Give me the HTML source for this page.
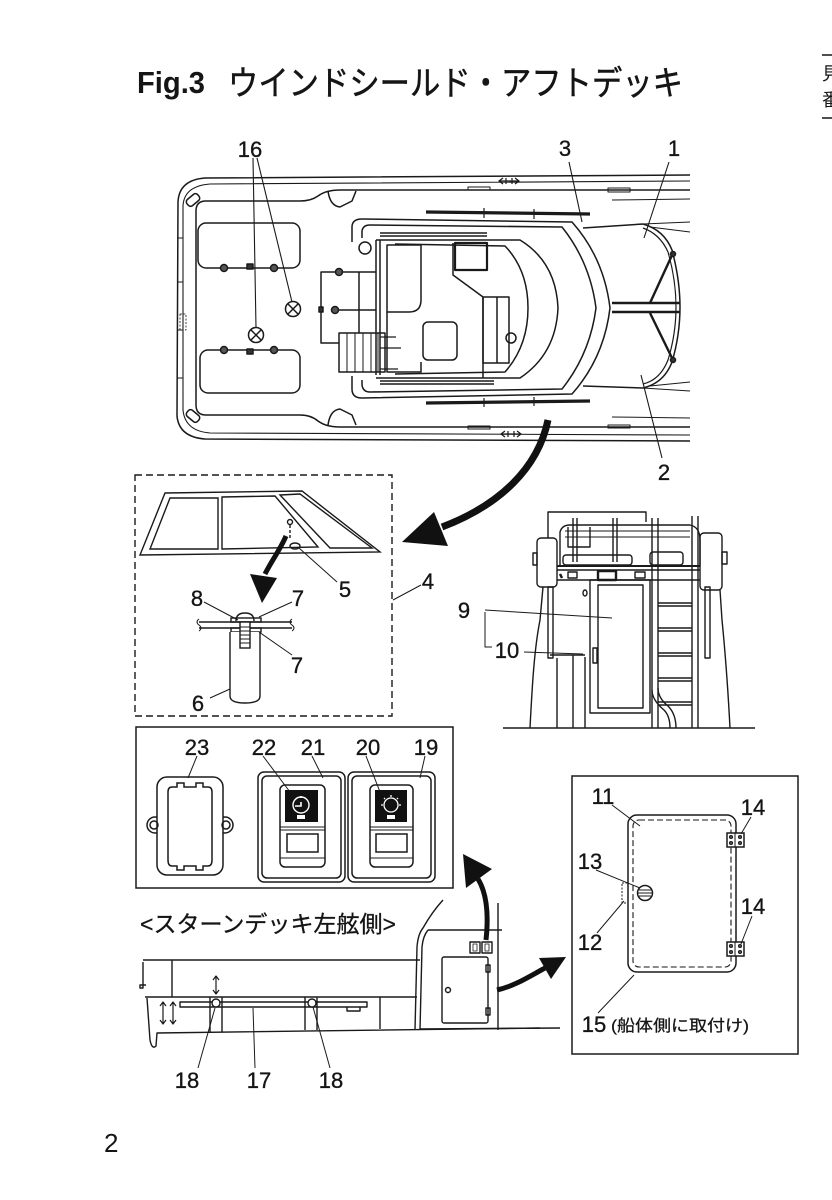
<!DOCTYPE html>
<html><head><meta charset="utf-8">
<style>
html,body{margin:0;padding:0;background:#fff;}
svg{display:block;}
.l{font-family:"Liberation Sans",Arial,sans-serif;font-size:22px;fill:#151515;stroke:#151515;stroke-width:0.35;}
</style></head><body>
<svg width="832" height="1200" viewBox="0 0 832 1200" xmlns="http://www.w3.org/2000/svg">
<rect width="832" height="1200" fill="#fff"/>

<!-- Title -->
<text x="137" y="93" font-family="Liberation Sans, Arial, sans-serif" font-weight="bold" font-size="31" textLength="68" lengthAdjust="spacingAndGlyphs" fill="#151515">Fig.3</text>
<text x="228" y="95" font-family="Liberation Sans, Noto Sans CJK JP, sans-serif" font-size="34" textLength="455" lengthAdjust="spacingAndGlyphs" fill="#151515" stroke="#151515" stroke-width="0.5">ウインドシールド・アフトデッキ</text>
<g stroke="#151515" stroke-width="1.5">
<line x1="822" y1="55" x2="832" y2="55"/><line x1="822" y1="118" x2="832" y2="118"/>
</g>
<text x="822" y="80" font-family="Noto Sans CJK JP, sans-serif" font-size="18" fill="#151515">見</text>
<text x="822" y="106" font-family="Noto Sans CJK JP, sans-serif" font-size="18" fill="#151515">番</text>

<!-- ================= BOAT TOP VIEW ================= -->
<g fill="none" stroke="#1a1a1a" stroke-width="1.5" stroke-linejoin="round">
<!-- hull -->
<path d="M690,175 L205,178 Q179,180 178,202 L177,416 Q179,437 205,439 L690,441"/>
<path d="M690,181 L210,184 Q184,186 183,206 L183,410 Q185,431 210,433 L690,435" stroke-width="1.1"/>
<path d="M690,190 L340,190 Q326,190 318,196 Q311,201 300,201 L206,201 Q196,201 196,211 L196,405 Q196,415 206,415 L300,415 Q311,415 318,421 Q326,427 340,427 L690,427"/>
<!-- transom steps -->
<path d="M177,238 L183,238 M177,282 L183,282 M177,330 L183,330 M177,378 L183,378" stroke-width="1"/>
<rect x="180" y="314" width="6" height="16" stroke-width="0.8" stroke-dasharray="2 1.5"/>
<!-- corner cleats -->
<rect x="186" y="196" width="14" height="8" rx="3" transform="rotate(-40 193 200)"/>
<rect x="186" y="412" width="14" height="8" rx="3" transform="rotate(40 193 416)"/>
<!-- step trapezoids -->
<path d="M328,191 Q330,206 340,207 L352,201 L356,191"/>
<path d="M328,425 Q330,410 340,409 L352,415 L356,425"/>
<!-- small deck fittings -->
<path d="M468,187 L490,187 L490,190 L468,190 Z M608,188 L630,188 L630,192 L608,192 Z" stroke-width="1"/>
<path d="M468,426 L490,426 L490,429 L468,429 Z M608,425 L630,425 L630,428 L608,428 Z" stroke-width="1"/>
<path d="M500,181 L518,181 M503,178 L499,181 L503,184 M515,178 L519,181 L515,184 M506,178 L506,184 M512,178 L512,184" stroke-width="1.2"/>
<path d="M502,434 L520,434 M505,431 L501,434 L505,437 M517,431 L521,434 L517,437 M508,431 L508,437 M514,431 L514,437" stroke-width="1.2"/>
<!-- hatches -->
<rect x="198" y="223" width="102" height="45" rx="8"/>
<rect x="200" y="350" width="100" height="43" rx="8"/>
<!-- deck plates -->
<circle cx="293" cy="309" r="7.5"/><path d="M288,304 L298,314 M298,304 L288,314"/>
<circle cx="256" cy="335" r="7.5"/><path d="M251,330 L261,340 M261,330 L251,340"/>

<!-- cabin -->
<path d="M352,242 L352,227 Q352,219 362,219 L572,222 Q604,258 610,308 Q604,358 572,394 L362,398 Q352,398 352,389 L352,376"/>
<path d="M362,238 L362,231 Q363,225 370,225 L562,227 Q590,262 596,308 Q590,354 562,389 L370,392 Q363,392 362,385 L362,380"/>
<circle cx="365" cy="248" r="6"/>
<path d="M376,240 L520,240 Q556,262 558,308 Q556,354 520,378 L376,378"/>
<path d="M395,244 L505,246 Q528,270 528,308 Q528,346 505,372 L395,374"/>
<path d="M380,233 L487,233 M380,236 L487,236" stroke-width="1.6"/>
<path d="M380,381 L494,381 M380,384 L494,384" stroke-width="1.6"/>
<path d="M426,212 L590,214" stroke-width="3.2"/>
<path d="M426,403 L590,401" stroke-width="3.2"/>
<path d="M484,208 L484,218 M534,209 L534,219 M484,398 L484,407 M534,397 L534,406" stroke-width="1.2"/>
<!-- helm / interior -->
<path d="M376,240 L376,375 M380,240 L380,375"/>
<path d="M387,245 L421,245 L421,300 Q421,312 409,312 L387,312 Z"/>
<path d="M387,312 L387,372 L421,372 L421,362"/>
<rect x="423" y="322" width="34" height="38" rx="5"/>
<path d="M453,243 L453,275 L483,297 L483,378"/>
<rect x="455" y="243" width="32" height="27" stroke-width="2.2"/>
<rect x="483" y="297" width="26" height="66"/>
<path d="M497,297 L497,363"/>
<circle cx="511" cy="338" r="5"/>
<!-- rails and stairs -->
<path d="M376,272 L321,272 L321,343 L339,343 M376,310 L339,310 M359,272 L359,333"/>
<circle cx="339" cy="272" r="3.5" fill="#555"/><circle cx="335" cy="310" r="3.5" fill="#555"/>
<rect x="319" y="307" width="4" height="5" fill="#333"/>
<rect x="339" y="333" width="46" height="39"/>
<path d="M347,333 L347,372 M355,333 L355,372 M363,333 L363,372 M371,333 L371,372 M378,333 L378,372" stroke-width="1"/>
<path d="M380,337 L396,337 M380,348 L401,348 M380,369 L398,369" stroke-width="1.2"/>
<!-- hatch hinges -->
<circle cx="224" cy="268" r="3.5" fill="#555"/><circle cx="274" cy="268" r="3.5" fill="#555"/>
<circle cx="224" cy="350" r="3.5" fill="#555"/><circle cx="274" cy="350" r="3.5" fill="#555"/>
<rect x="247" y="264" width="6" height="5" fill="#333"/><rect x="247" y="349" width="6" height="5" fill="#333"/>
<!-- foredeck -->
<path d="M583,228 L643,224 Q664,230 672,250 Q680,280 680,307 Q680,335 672,362 Q664,383 643,388 L583,386"/>
<path d="M643,228 Q660,234 668,252 Q676,280 676,307 Q676,334 668,360 Q660,380 643,384" stroke-width="1.2"/>
<path d="M643,224 L690,222 M650,227 L690,232 M643,388 L690,391 M650,386 L690,382 M612,200 L690,199 M612,417 L690,418" stroke-width="1"/>
<path d="M673,253 L650,303 M650,313 L673,360" stroke-width="2.4"/>
<circle cx="673" cy="254" r="2.5" fill="#333"/><circle cx="673" cy="360" r="2.5" fill="#333"/>
<path d="M612,303 L680,303 M612,312 L680,312" stroke-width="2.4"/>
<!-- leaders -->
<path d="M253,158 L256,328 M257,158 L292,302 M569,162 L582,222 M669,162 L644,238 M662,458 L641,375" stroke-width="1.1"/>
</g>
<text class="l" x="250" y="157" text-anchor="middle">16</text>
<text class="l" x="565" y="156" text-anchor="middle">3</text>
<text class="l" x="674" y="156" text-anchor="middle">1</text>
<text class="l" x="664" y="480" text-anchor="middle">2</text>

<!-- big arrow -->
<path d="M548,420 C538,468 500,505 442,527" fill="none" stroke="#111" stroke-width="7"/>
<polygon points="402,542 434,512 448,546" fill="#111"/>

<!-- ================= WINDSHIELD BOX ================= -->
<g fill="none" stroke="#1a1a1a" stroke-width="1.4">
<rect x="135" y="475" width="257" height="241" stroke-dasharray="7 4"/>
<path d="M165,493 L302,491 L380,552 L140,555 Z"/>
<path d="M170,498 L218,498 L218,549 L150,549 Z"/>
<path d="M222,497 L275,496 L318,547 L222,549 Z"/>
<path d="M280,495 L300,494 L372,548 L330,548 Z"/>
<path d="M290,525 L290,540" stroke-dasharray="3 2"/>
<circle cx="290" cy="522" r="2.5"/>
<ellipse cx="295" cy="546" rx="5" ry="3"/>
<path d="M299,548 L337,582" stroke-width="1"/>
<!-- bolt detail -->
<path d="M199,622 L292,622 M199,628 L292,628"/>
<path d="M199,619 Q195,622 199,625 Q203,628 199,631" stroke-width="1"/>
<path d="M292,619 Q288,622 292,625 Q296,628 292,631" stroke-width="1"/>
<path d="M236,621 Q236,613 245,613 Q254,613 254,621"/>
<rect x="231" y="618" width="30" height="4"/>
<rect x="231" y="628" width="30" height="4"/>
<path d="M230,632 L230,696 Q230,703 245,703 Q260,703 260,696 L260,632" fill="#fff"/>
<rect x="240" y="622" width="10" height="26" fill="#fff"/>
<path d="M240,627 L250,627 M240,631 L250,631 M240,635 L250,635 M240,639 L250,639 M240,643 L250,643" stroke-width="0.9"/>
<path d="M204,602 L238,620 M292,602 L259,617 M292,655 L259,632 M210,698 L230,689 M421,585 L393,600" stroke-width="1"/>
</g>
<path d="M286,536 C280,550 272,560 265,574" fill="none" stroke="#111" stroke-width="5"/>
<polygon points="250,574 277,578 262,603" fill="#111"/>
<text class="l" x="345" y="597" text-anchor="middle">5</text>
<text class="l" x="428" y="589" text-anchor="middle">4</text>
<text class="l" x="197" y="606" text-anchor="middle">8</text>
<text class="l" x="298" y="606" text-anchor="middle">7</text>
<text class="l" x="297" y="673" text-anchor="middle">7</text>
<text class="l" x="198" y="711" text-anchor="middle">6</text>

<!-- ================= LADDER VIEW ================= -->
<g fill="none" stroke="#1a1a1a" stroke-width="1.4" stroke-linejoin="round">
<path d="M503,728 L755,728"/>
<path d="M530,728 C532,690 534,650 540,620 L543,587"/>
<path d="M730,728 C728,690 725,650 722,620 L720,590"/>
<path d="M548,538 L548,512 L646,512 L646,522"/>
<path d="M560,567 L560,532 Q562,525 570,525 L690,525 Q700,527 700,540 L700,567"/>
<path d="M565,531 L690,531 M565,537 L690,537" stroke-width="1"/>
<path d="M568,527 L568,547 L590,547 L590,527"/>
<rect x="563" y="555" width="69" height="10" rx="3"/>
<rect x="650" y="552" width="33" height="13" rx="3"/>
<path d="M573,518 L573,562 M577,518 L577,562 M613,518 L613,562 M617,518 L617,562"/>
<path d="M557,566 L700,566" stroke-width="2"/>
<path d="M557,570 L700,570 M557,580 L700,580"/>
<rect x="568" y="572" width="9" height="6"/>
<rect x="598" y="571" width="18" height="9" stroke-width="2.4"/>
<rect x="635" y="572" width="10" height="6"/>
<rect x="537" y="538" width="20" height="49" rx="4"/>
<rect x="533" y="553" width="4" height="12"/>
<rect x="700" y="533" width="22" height="57" rx="4"/>
<rect x="722" y="552" width="5" height="12"/>
<rect x="548" y="587" width="5" height="71"/>
<rect x="705" y="587" width="5" height="71"/>
<path d="M560,574 L562,578" stroke-width="2.5"/>
<rect x="590" y="580" width="60" height="133"/>
<rect x="598" y="585" width="45" height="123"/>
<path d="M652,518 L652,728 M658,518 L658,728 M692,516 L692,728 M698,516 L698,728"/>
<path d="M658,603 L692,603 M658,606 L692,606 M658,628 L692,628 M658,631 L692,631 M658,653 L692,653 M658,656 L692,656 M658,678 L692,678 M658,681 L692,681 M658,702 L692,702 M658,705 L692,705"/>
<path d="M652,690 Q652,700 664,710 Q670,716 670,728 M658,688 Q658,698 668,706 Q676,714 676,728"/>
<path d="M557,658 L557,728 M573,655 L573,728 M585,657 L585,728 M550,655 L585,655"/>
<ellipse cx="585" cy="593" rx="2" ry="3"/>
<rect x="593" y="648" width="4" height="15"/>
<path d="M485,610 L612,618 M485,612 L485,647 L492,647 M524,652 L583,654" stroke-width="1"/>
</g>
<text class="l" x="464" y="618" text-anchor="middle">9</text>
<text class="l" x="507" y="658" text-anchor="middle">10</text>

<!-- ================= SWITCH PANEL ================= -->
<g fill="none" stroke="#1a1a1a" stroke-width="1.5">
<rect x="136" y="727" width="317" height="161"/>
<circle cx="155" cy="825" r="8" fill="#fff"/>
<circle cx="225" cy="825" r="8" fill="#fff"/>
<rect x="157" y="777" width="66" height="98" rx="10" fill="#fff"/>
<circle cx="154" cy="825" r="4"/>
<circle cx="226" cy="825" r="4"/>
<path d="M172,787 L177,787 L177,783 L184,783 L184,787 L196,787 L196,783 L203,783 L203,787 L208,787 Q212,787 212,792 L212,860 Q212,866 208,866 L203,866 L203,870 L196,870 L196,866 L184,866 L184,870 L177,870 L177,866 L172,866 Q168,866 168,860 L168,792 Q168,787 172,787 Z"/>
<rect x="258" y="772" width="87" height="110" rx="6"/>
<rect x="262" y="776" width="79" height="102" rx="5"/>
<rect x="280" y="785" width="45" height="82" rx="5"/>
<path d="M280,827 L325,827 M280,830 L325,830 M280,858 L325,858" stroke-width="1"/>
<rect x="287" y="834" width="31" height="18"/>
<rect x="348" y="772" width="87" height="110" rx="6"/>
<rect x="352" y="776" width="79" height="102" rx="5"/>
<rect x="370" y="785" width="43" height="82" rx="5"/>
<path d="M370,827 L413,827 M370,830 L413,830 M370,858 L413,858" stroke-width="1"/>
<rect x="376" y="834" width="31" height="18"/>
<path d="M197,756 L188,778 M263,756 L290,792 M312,756 L323,778 M366,756 L380,792 M425,756 L420,778" stroke-width="1"/>
</g>
<rect x="285" y="790" width="33" height="32" fill="#111"/>
<circle cx="301" cy="805" r="8" fill="none" stroke="#fff" stroke-width="1.4"/>
<path d="M295,806 L301,806 L301,802 M301,798 L301,796" fill="none" stroke="#fff" stroke-width="1.6"/>
<rect x="297" y="815" width="8" height="4" fill="#fff"/>
<rect x="375" y="790" width="32" height="32" fill="#111"/>
<circle cx="391" cy="805" r="7" fill="none" stroke="#fff" stroke-width="1.3"/>
<path d="M391,795 L391,797 M381,805 L383,805 M399,805 L401,805 M384,798 L385,799 M398,798 L397,799" stroke="#fff" stroke-width="1.3"/>
<rect x="387" y="815" width="8" height="4" fill="#fff"/>
<text class="l" x="197" y="755" text-anchor="middle">23</text>
<text class="l" x="264" y="755" text-anchor="middle">22</text>
<text class="l" x="313" y="755" text-anchor="middle">21</text>
<text class="l" x="368" y="755" text-anchor="middle">20</text>
<text class="l" x="426" y="755" text-anchor="middle">19</text>

<!-- ================= SIDE VIEW ================= -->
<text x="140" y="932" font-family="Liberation Sans, Noto Sans CJK JP, sans-serif" font-size="23" textLength="256" lengthAdjust="spacingAndGlyphs" fill="#151515" stroke="#151515" stroke-width="0.3">&lt;スターンデッキ左舷側&gt;</text>
<g fill="none" stroke="#1a1a1a" stroke-width="1.4" stroke-linejoin="round">
<path d="M143,960 L420,960"/>
<path d="M143,962 L143,988 L140,988 L140,985 L146,985"/>
<path d="M172,960 L172,997 M145,997 L417,997"/>
<path d="M147,998 L150,1040 Q152,1050 156,1046 L157,1033 L540,1028"/>
<rect x="180" y="1002" width="187" height="5"/>
<path d="M347,1007 L347,1011 L360,1011 L360,1007"/>
<path d="M210,997 L210,1032 M222,997 L222,1032 M305,997 L305,1030 M317,997 L317,1030 M380,997 L380,1029"/>
<circle cx="216" cy="1003" r="4" fill="#fff"/><circle cx="312" cy="1003" r="4" fill="#fff"/>
<path d="M216,977 L216,993 M213,980 L216,976 L219,980 M213,990 L216,994 L219,990" stroke-width="1.2"/>
<path d="M163,1003 L163,1023 M160,1006 L163,1002 L166,1006 M160,1020 L163,1024 L166,1020" stroke-width="1.2"/>
<path d="M173,1003 L173,1023 M170,1006 L173,1002 L176,1006 M170,1020 L173,1024 L176,1020" stroke-width="1.2"/>
<path d="M415,1030 L417,947 Q418,934 423,928 Q432,912 443,900"/>
<path d="M420,1030 L422,947 Q423,936 428,930"/>
<path d="M428,930 L502,930 M498,903 L498,1030 M420,1029 L560,1028"/>
<rect x="470" y="942" width="10" height="11"/><rect x="482" y="942" width="10" height="11"/>
<rect x="473" y="944" width="4" height="7" stroke-width="0.8"/><rect x="485" y="944" width="4" height="7" stroke-width="0.8"/>
<rect x="442" y="957" width="46" height="66" rx="2"/>
<circle cx="448" cy="990" r="2.5"/>
<rect x="486" y="965" width="4" height="7"/><rect x="486" y="1008" width="4" height="7"/>
<path d="M198,1068 L215,1008 M255,1068 L253,1008 M330,1068 L313,1007" stroke-width="1"/>
</g>
<path d="M486,940 C489,912 486,892 478,879" fill="none" stroke="#111" stroke-width="5"/>
<polygon points="463,854 492,869 466,888" fill="#111"/>
<path d="M497,990 C515,986 530,976 545,968" fill="none" stroke="#111" stroke-width="5"/>
<polygon points="566,957 551,979 539,958" fill="#111"/>
<text class="l" x="187" y="1088" text-anchor="middle">18</text>
<text class="l" x="259" y="1088" text-anchor="middle">17</text>
<text class="l" x="331" y="1088" text-anchor="middle">18</text>

<!-- ================= HATCH DETAIL ================= -->
<g fill="none" stroke="#1a1a1a" stroke-width="1.5">
<rect x="572" y="776" width="226" height="278"/>
<rect x="628" y="815" width="108" height="157" rx="9"/>
<rect x="633" y="820" width="98" height="147" rx="6" stroke-dasharray="6 3" stroke-width="1.1"/>
<circle cx="645" cy="893" r="7.5" fill="#fff"/>
<path d="M639,890 L651,890 M638,893 L652,893 M639,896 L651,896" stroke-width="1"/>
<rect x="622" y="883" width="6" height="20" stroke-dasharray="2 1.5" stroke-width="1"/>
<rect x="727" y="833" width="17" height="14" fill="#fff"/>
<path d="M735,833 L735,847" stroke-width="1"/>
<circle cx="731" cy="837" r="1.3"/><circle cx="740" cy="837" r="1.3"/><circle cx="731" cy="843" r="1.3"/><circle cx="740" cy="843" r="1.3"/>
<rect x="727" y="942" width="17" height="14" fill="#fff"/>
<path d="M735,942 L735,956" stroke-width="1"/>
<circle cx="731" cy="946" r="1.3"/><circle cx="740" cy="946" r="1.3"/><circle cx="731" cy="952" r="1.3"/><circle cx="740" cy="952" r="1.3"/>
<path d="M612,805 L640,826 M751,817 L741,834 M596,870 L640,888 M597,933 L624,901 M752,916 L741,944 M598,1013 L634,975" stroke-width="1"/>
</g>
<text class="l" x="603" y="804" text-anchor="middle">11</text>
<text class="l" x="753" y="815" text-anchor="middle">14</text>
<text class="l" x="590" y="869" text-anchor="middle">13</text>
<text class="l" x="590" y="950" text-anchor="middle">12</text>
<text class="l" x="753" y="914" text-anchor="middle">14</text>
<text class="l" x="594" y="1032" text-anchor="middle">15</text>
<text x="611" y="1031" font-family="Liberation Sans, Noto Sans CJK JP, sans-serif" font-size="16" textLength="138" lengthAdjust="spacingAndGlyphs" fill="#151515" stroke="#151515" stroke-width="0.25">(船体側に取付け)</text>

<!-- page number -->
<text x="104" y="1152" font-family="Liberation Sans, Arial, sans-serif" font-size="26" fill="#151515">2</text>
</svg>
</body></html>
